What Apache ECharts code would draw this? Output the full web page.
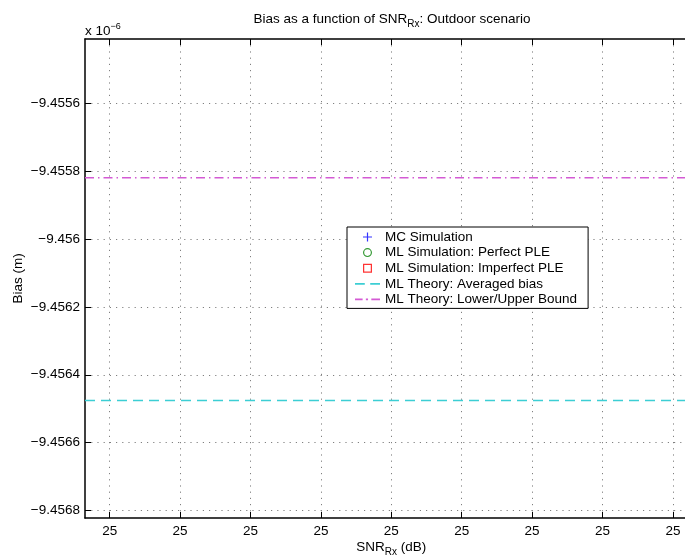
<!DOCTYPE html>
<html>
<head>
<meta charset="utf-8">
<script src="https://cdn.jsdelivr.net/npm/echarts@6/dist/echarts.min.js"></script>
<style>
html,body{margin:0;padding:0;background:#fff;}
#chart{width:685px;height:558px;}
</style>
</head>
<body>
<div id="chart"></div>
<script>
// ---- data ----
const xTicks = [0, 1, 2, 3, 4, 5, 6, 7, 8];
const xTickLabels = ['25', '25', '25', '25', '25', '25', '25', '25', '25'];
const xLimits = [-0.351, 8.351];
const yTicks = [-9.4568, -9.4566, -9.4564, -9.4562, -9.456, -9.4558, -9.4556];
const yTickLabels = ['\u22129.4568', '\u22129.4566', '\u22129.4564', '\u22129.4562', '\u22129.456', '\u22129.4558', '\u22129.4556'];
const yLimits = [-9.4568215, -9.455412];
// marker series have no points inside the visible window
const mcSimulation = [];
const mlPerfectPLE = [];
const mlImperfectPLE = [];
// theory lines (constant across the SNR range)
const averagedBiasX = [xLimits[0], xLimits[1]];
const averagedBiasY = [-9.456476, -9.456476];
const boundX = [xLimits[0], xLimits[1]];
const boundY = [-9.45582, -9.45582];

const FONT = "'Liberation Sans', Arial, Helvetica, sans-serif";
const FS = 13.5;
const chart = echarts.init(document.getElementById('chart'));

const gridLine = { show: true, lineStyle: { color: '#808080', type: [1.2, 5], width: 1 } };
const axisLineStyle = { show: true, onZero: false, lineStyle: { color: '#000', width: 1.5 } };

const ICON_PLUS = 'path://M3.9,0H5.1V3.9H9V5.1H5.1V9H3.9V5.1H0V3.9H3.9Z';
const ICON_RING = 'path://M4.5,0A4.5,4.5 0 1,1 4.5,9A4.5,4.5 0 1,1 4.5,0Z M4.5,1.2A3.3,3.3 0 1,0 4.5,7.8A3.3,3.3 0 1,0 4.5,1.2Z';
const ICON_SQUARE = 'path://M0,0H8V8H0Z M1.1,1.1V6.9H6.9V1.1Z';
const ICON_DASH = 'path://M0,0H9V1.6H0Z M14,0H23V1.6H14Z';
const ICON_DASHDOT = 'path://M0,0H7V1.6H0Z M10,0H12V1.6H10Z M15,0H23V1.6H15Z';

chart.setOption({
  backgroundColor: '#fff',
  animation: false,
  textStyle: { fontFamily: FONT },
  grid: { left: 85, top: 39, width: 612.6, height: 479, containLabel: false, outerBoundsMode: 'none' },
  graphic: [
    {
      type: 'text', x: 392, y: 12,
      style: {
        text: '{a|Bias as a function of SNR}{s|Rx}{a|: Outdoor scenario}',
        align: 'center',
        rich: {
          a: { fontFamily: FONT, fontSize: FS, color: '#000', verticalAlign: 'top', lineHeight: 16 },
          s: { fontFamily: FONT, fontSize: 10, color: '#000', verticalAlign: 'top', lineHeight: 12, padding: [7, 0, 0, 0] }
        }
      }
    },
    {
      type: 'text', x: 85, y: 22,
      style: {
        text: '{a|x 10}{s|\u22126}',
        align: 'left',
        rich: {
          a: { fontFamily: FONT, fontSize: FS, color: '#000', verticalAlign: 'bottom', lineHeight: 16, padding: [4, 0, 0, 0] },
          s: { fontFamily: FONT, fontSize: 9, color: '#000', verticalAlign: 'top', lineHeight: 10 }
        }
      }
    }
  ],
  legend: {
    orient: 'vertical',
    left: 347, top: 227,
    padding: [3, 11, 2, 8],
    itemGap: 1.6,
    itemWidth: 25, itemHeight: 9,
    backgroundColor: '#fff',
    borderColor: '#000', borderWidth: 1,
    selectedMode: false,
    textStyle: { fontFamily: FONT, fontSize: FS, color: '#000' },
    data: [
      { name: 'MC Simulation', icon: ICON_PLUS },
      { name: 'ML Simulation: Perfect PLE', icon: ICON_RING },
      { name: 'ML Simulation: Imperfect PLE', icon: ICON_SQUARE },
      { name: 'ML Theory: Averaged bias', icon: ICON_DASH },
      { name: 'ML Theory: Lower/Upper Bound', icon: ICON_DASHDOT }
    ]
  },
  xAxis: [
    {
      type: 'value', position: 'bottom',
      min: xLimits[0], max: xLimits[1],
      name: '{a|SNR}{s|Rx}{a| (dB)}',
      nameLocation: 'middle', nameGap: 22, nameMoveOverlap: false,
      nameTextStyle: {
        rich: {
          a: { fontFamily: FONT, fontSize: FS, color: '#000', verticalAlign: 'top', lineHeight: 16 },
          s: { fontFamily: FONT, fontSize: 10, color: '#000', verticalAlign: 'top', lineHeight: 12, padding: [7, 0, 0, 0] }
        }
      },
      axisLine: axisLineStyle,
      axisTick: { show: true, inside: true, length: 6, customValues: xTicks, lineStyle: { color: '#000', width: 1 } },
      axisLabel: {
        show: true, margin: 6, customValues: xTicks, color: '#000', fontSize: FS, fontFamily: FONT,
        formatter: function (v) { const i = xTicks.indexOf(v); return i >= 0 ? xTickLabels[i] : ''; }
      },
      splitLine: gridLine
    },
    {
      type: 'value', position: 'top',
      min: xLimits[0], max: xLimits[1],
      axisLine: axisLineStyle,
      axisTick: { show: true, inside: true, length: 6, customValues: xTicks, lineStyle: { color: '#000', width: 1 } },
      axisLabel: { show: false },
      splitLine: { show: false }
    }
  ],
  yAxis: [
    {
      type: 'value', position: 'left',
      min: yLimits[0], max: yLimits[1],
      scale: true,
      name: 'Bias (m)',
      nameLocation: 'middle', nameGap: 60, nameRotate: 90, nameMoveOverlap: false,
      nameTextStyle: { fontFamily: FONT, fontSize: FS, color: '#000' },
      axisLine: axisLineStyle,
      axisTick: { show: true, inside: true, length: 6, customValues: yTicks, lineStyle: { color: '#000', width: 1 } },
      axisLabel: {
        show: true, margin: 5, customValues: yTicks, color: '#000', fontSize: FS, fontFamily: FONT,
        formatter: function (v) { const i = yTicks.indexOf(v); return i >= 0 ? yTickLabels[i] : ''; }
      },
      splitLine: gridLine
    }
  ],
  series: [
    {
      name: 'MC Simulation', type: 'scatter',
      data: mcSimulation,
      symbol: ICON_PLUS, symbolSize: 9,
      itemStyle: { color: '#0000ff' }
    },
    {
      name: 'ML Simulation: Perfect PLE', type: 'scatter',
      data: mlPerfectPLE,
      symbol: ICON_RING, symbolSize: 9,
      itemStyle: { color: '#008000' }
    },
    {
      name: 'ML Simulation: Imperfect PLE', type: 'scatter',
      data: mlImperfectPLE,
      symbol: ICON_SQUARE, symbolSize: 8,
      itemStyle: { color: '#ff0000' }
    },
    {
      name: 'ML Theory: Averaged bias', type: 'line',
      data: averagedBiasX.map((x, i) => [x, averagedBiasY[i]]),
      symbol: 'none', showSymbol: false,
      itemStyle: { color: '#3cced4' },
      lineStyle: { color: '#3cced4', width: 1.5, type: [10, 6] }
    },
    {
      name: 'ML Theory: Lower/Upper Bound', type: 'line',
      data: boundX.map((x, i) => [x, boundY[i]]),
      symbol: 'none', showSymbol: false,
      itemStyle: { color: '#d45ad4' },
      lineStyle: { color: '#d45ad4', width: 1.5, type: [9, 4, 1.5, 4] }
    }
  ]
});
</script>
</body>
</html>
